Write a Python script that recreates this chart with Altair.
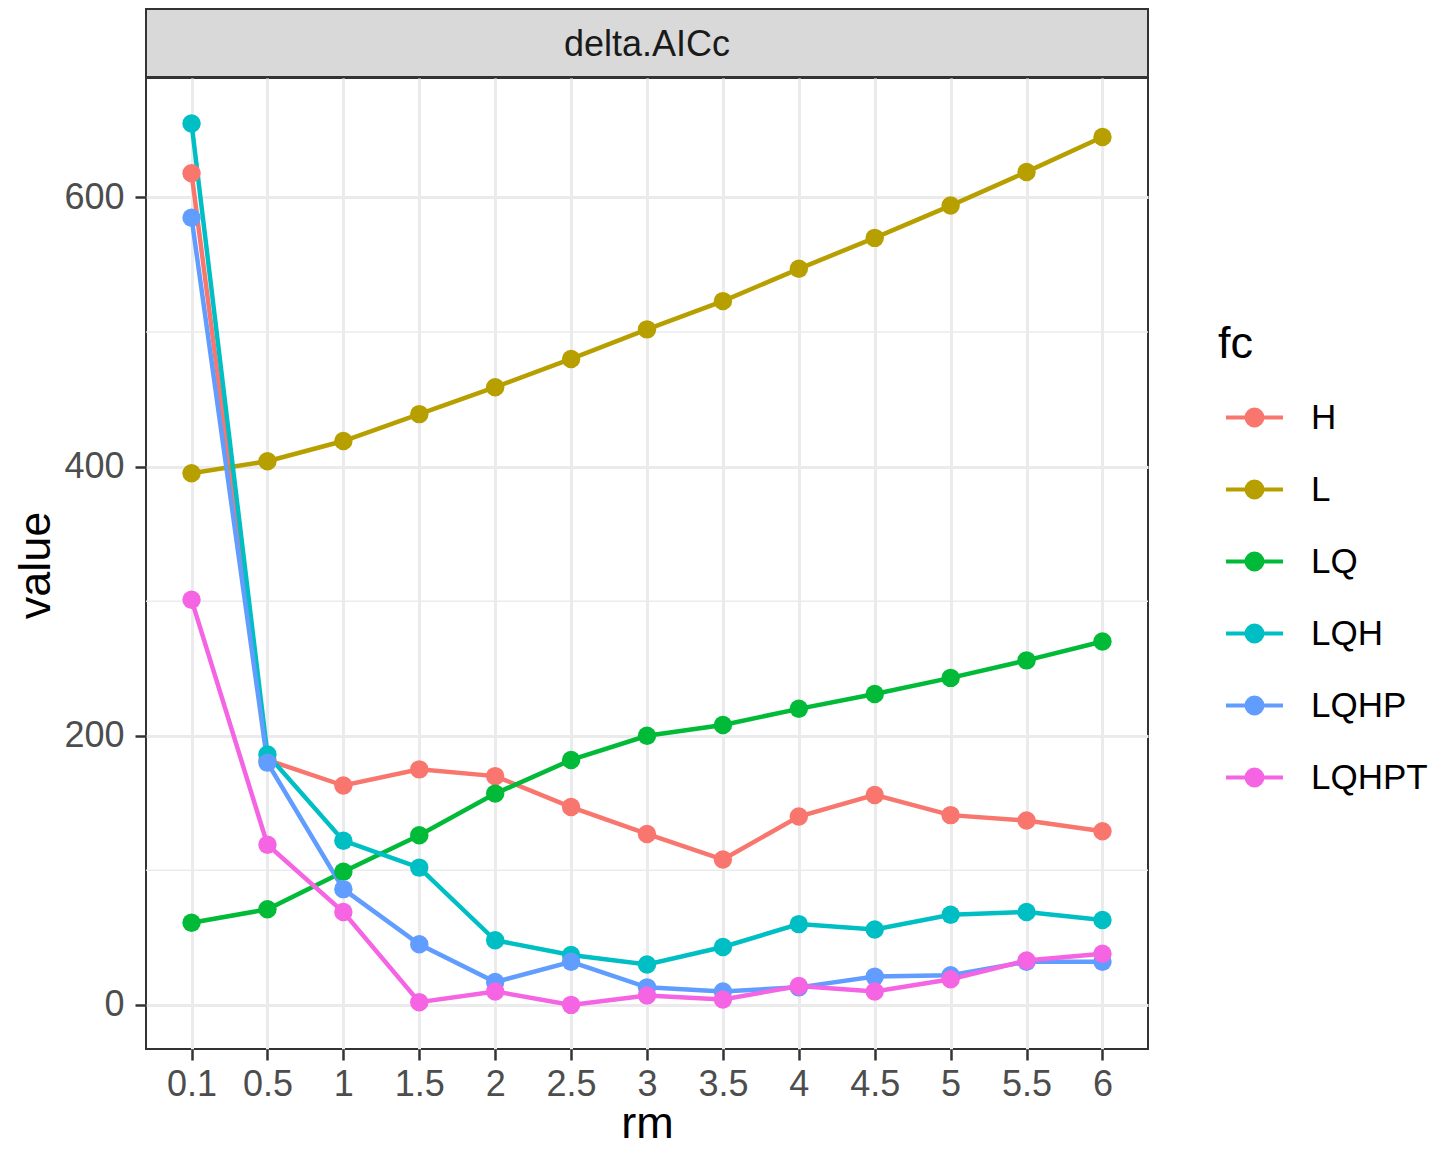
import altair as alt
import pandas as pd

rm_levels = ["0.1", "0.5", "1", "1.5", "2", "2.5", "3", "3.5", "4", "4.5", "5", "5.5", "6"]
fc_levels = ["H", "L", "LQ", "LQH", "LQHP", "LQHPT"]
fc_colors = ["#F8766D", "#B79F00", "#00BA38", "#00BFC4", "#619CFF", "#F564E3"]

H = [618, 182, 163, 175, 170, 147, 127, 108, 140, 156, 141, 137, 129]
L = [395, 404, 419, 439, 459, 480, 502, 523, 547, 570, 594, 619, 645]
LQ = [61, 71, 99, 126, 157, 182, 200, 208, 220, 231, 243, 256, 270]
LQH = [655, 186, 122, 102, 48, 37, 30, 43, 60, 56, 67, 69, 63]
LQHP = [585, 180, 86, 45, 17, 32, 13, 10, 13, 21, 22, 32, 32]
LQHPT = [301, 119, 69, 2, 10, 0, 7, 4, 14, 10, 19, 33, 38]

y_ticks = [0, 200, 400, 600]
y_minor = [100, 300, 500]
strip_label = ["delta.AICc"]

series = {"H": H, "L": L, "LQ": LQ, "LQH": LQH, "LQHP": LQHP, "LQHPT": LQHPT}
rows = []
for fc, vals in series.items():
    for rm, v in zip(rm_levels, vals):
        rows.append({"rm": rm, "fc": fc, "value": v})
df = pd.DataFrame(rows)

W, Hh = 1002, 971
FONT = "Liberation Sans"

yscale = alt.Scale(domain=[-32.8, 688.8], nice=False, zero=False)
xscale = alt.Scale(type="point", domain=rm_levels, padding=0.6)

yaxis = alt.Axis(values=y_ticks, title="value", titleAngle=270, titleBaseline="alphabetic",
                 titleX=-97, titleY=487, titleFontSize=45, titleFontWeight="normal",
                 titleColor="black", labelFontSize=36, labelColor="#4D4D4D", labelPadding=11,
                 tickSize=11, tickWidth=2.5, tickColor="#333333", domain=False,
                 grid=True, gridColor="#EBEBEB", gridWidth=3)
xaxis = alt.Axis(title="rm", titleBaseline="alphabetic", titleX=501, titleY=88,
                 titleFontSize=45, titleFontWeight="normal", titleColor="black",
                 labelFontSize=36, labelColor="#4D4D4D", labelPadding=7, labelAngle=0,
                 tickSize=11, tickWidth=2.5, tickColor="#333333", domain=False,
                 grid=True, gridColor="#EBEBEB", gridWidth=3)

sym_path = ("M-0.79,0L1.21,0M0.49,0A0.28,0.28,0,1,1,-0.07,0"
            "A0.28,0.28,0,1,1,0.49,0Z")
legend = alt.Legend(orient="none", legendX=1072, legendY=244, title="fc",
                    titleFontSize=45, titleFontWeight="normal", titleColor="black",
                    titlePadding=20, labelFontSize=35, labelColor="black", labelOffset=32,
                    symbolType=sym_path, symbolSize=3249, symbolStrokeWidth=4, rowPadding=23)
cscale = alt.Scale(domain=fc_levels, range=fc_colors)

minor = alt.Chart(pd.DataFrame({"value": y_minor})).mark_rule(
    color="#EBEBEB", strokeWidth=1.5
).encode(y=alt.Y("value:Q", scale=yscale, axis=yaxis))

lines = alt.Chart(df).mark_line(strokeWidth=4.5).encode(
    x=alt.X("rm:N", scale=xscale, axis=xaxis, sort=rm_levels),
    y=alt.Y("value:Q", scale=yscale, axis=yaxis),
    stroke=alt.Stroke("fc:N", scale=cscale, legend=legend),
)
points = alt.Chart(df).mark_point(filled=True, size=340, opacity=1).encode(
    x=alt.X("rm:N", scale=xscale, axis=xaxis, sort=rm_levels),
    y=alt.Y("value:Q", scale=yscale, axis=yaxis),
    fill=alt.Fill("fc:N", scale=cscale, legend=legend),
)

strip_df = pd.DataFrame({"strip": strip_label})
strip_rect = alt.Chart(strip_df).mark_rect(fill="#D9D9D9", stroke="#333333", strokeWidth=2).encode(
    x=alt.value(0), x2=alt.value(W), y=alt.value(-69), y2=alt.value(-1)
)
strip_text = alt.Chart(strip_df).mark_text(fontSize=36, color="#1A1A1A", baseline="middle", font=FONT).encode(
    x=alt.value(W / 2), y=alt.value(-33), text="strip:N"
)

chart = alt.layer(minor, lines, points, strip_rect, strip_text).properties(
    width=W, height=Hh,
    autosize=alt.AutoSizeParams(type="none"),
    padding={"left": 138, "top": 70, "right": 286, "bottom": 97},
).configure(font=FONT).configure_view(stroke="#333333", strokeWidth=2)

chart.save("out.html", embed_options={"renderer": "svg", "actions": False})
